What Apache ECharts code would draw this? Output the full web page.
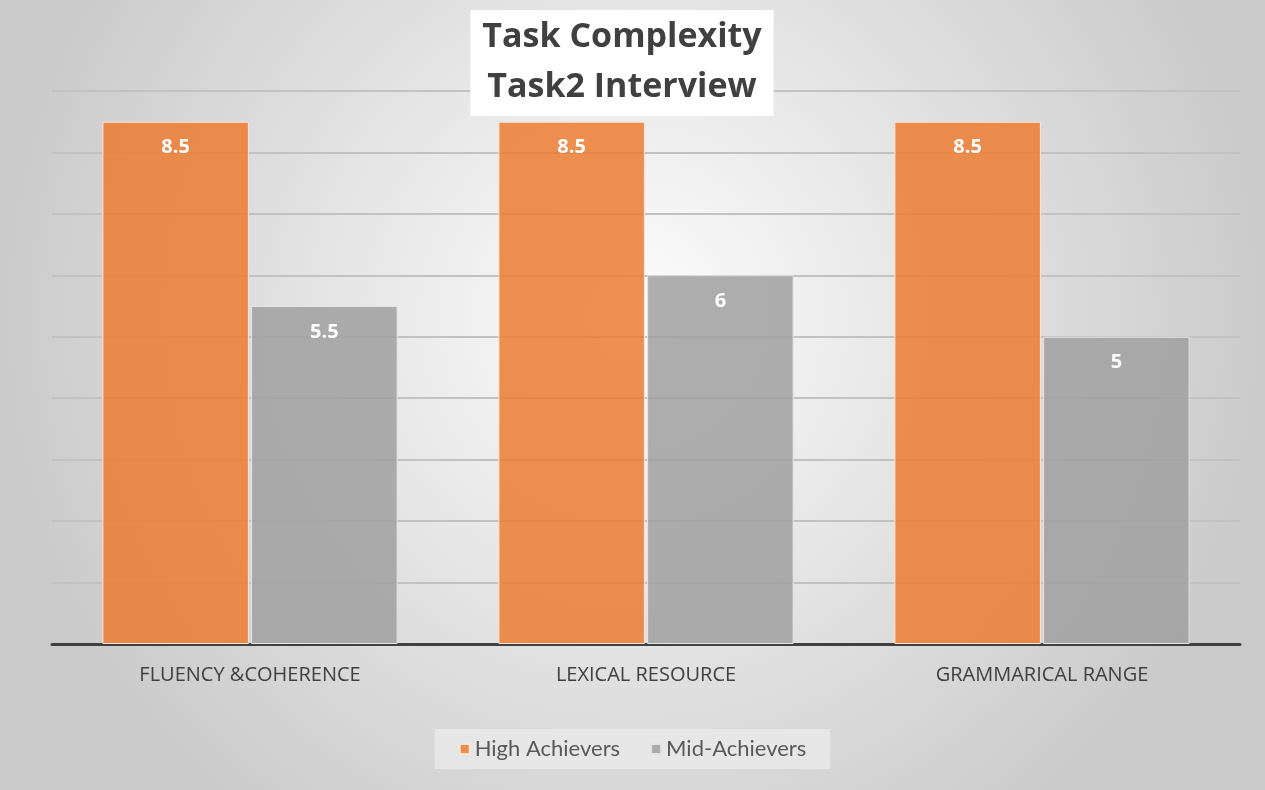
<!DOCTYPE html>
<html><head><meta charset="utf-8">
<script src="https://cdn.jsdelivr.net/npm/echarts@6/dist/echarts.min.js"></script>
<style>html,body{margin:0;padding:0;}#c{width:1265px;height:790px;}</style>
</head><body><div id="c"></div>
<script>
const categories = ['FLUENCY &COHERENCE', 'LEXICAL RESOURCE', 'GRAMMARICAL RANGE'];
const highAchievers = [8.5, 8.5, 8.5];
const midAchievers = [5.5, 6, 5];
const seriesNames = ['High Achievers', 'Mid-Achievers'];

const chart = echarts.init(document.getElementById('c'));
const labelStyle = {show: true, position: 'insideTop', distance: 16, color: '#ffffff', fontWeight: 'bold', fontSize: 20, fontFamily: 'Open Sans'};
chart.setOption({
  backgroundColor: {type: 'radial', x: 0.5, y: 0.4, r: 0.8, colorStops: [{offset: 0, color: '#fdfdfd'}, {offset: 1, color: '#cbcbcb'}]},
  title: {
    text: 'Task Complexity\nTask2 Interview', left: 610, top: 10, textAlign: 'center',
    backgroundColor: '#ffffff', padding: [2, 12, 4, 12],
    textStyle: {fontFamily: 'Open Sans', fontWeight: 'bold', fontSize: 34, color: '#404040', lineHeight: 50}
  },
  legend: {
    bottom: 21, left: 'center', itemWidth: 10, itemHeight: 10, itemGap: 30,
    backgroundColor: 'rgba(232,232,232,0.9)', padding: [9, 24, 9, 24],
    icon: 'rect',
    textStyle: {fontFamily: 'Lato', fontSize: 22, color: '#595959'},
    data: seriesNames
  },
  grid: {left: 52, right: 25, top: 91, bottom: 146},
  xAxis: {
    type: 'category', data: categories,
    axisLine: {lineStyle: {color: '#404040', width: 3}},
    axisTick: {show: false},
    axisLabel: {fontFamily: 'Open Sans', fontSize: 20, color: '#404040', margin: 21}
  },
  yAxis: {
    type: 'value', min: 0, max: 9, interval: 1,
    axisLabel: {show: false}, axisLine: {show: false}, axisTick: {show: false},
    splitLine: {lineStyle: {color: '#c2c2c2', width: 2}}
  },
  series: [
    {name: seriesNames[0], type: 'bar', data: highAchievers, barWidth: '37%', barGap: '1.5%',
     itemStyle: {color: 'rgba(237,125,49,0.85)', borderColor: '#fbe6d6', borderWidth: 1}, label: labelStyle},
    {name: seriesNames[1], type: 'bar', data: midAchievers, barWidth: '37%',
     itemStyle: {color: 'rgba(160,160,160,0.85)', borderColor: '#e4e4e4', borderWidth: 1}, label: labelStyle}
  ]
});
</script></body></html>
